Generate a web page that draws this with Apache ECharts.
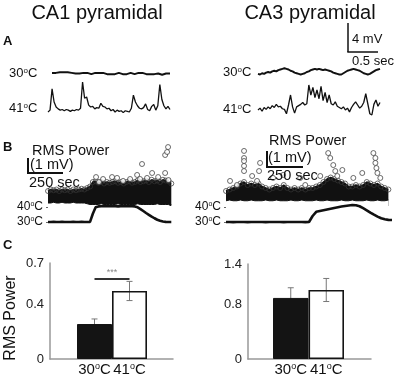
<!DOCTYPE html>
<html>
<head>
<meta charset="utf-8">
<script src="https://cdn.jsdelivr.net/npm/echarts@6/dist/echarts.min.js"></script>
<style>
  html, body { margin: 0; background: #fff; }
  #main { width: 397px; height: 377px; }
</style>
</head>
<body>
<div id="main"></div>
<script>
// ---- panel A: voltage traces (mV, one sample per ~33 ms) ----
const ca1Trace30 = [0.1,0.2,0.1,0.3,0.2,0.3,0.2,0.1,0.2,0.0,0.1,-0.1,0.0,0.1,0.0,-0.1,0.1,0.2,0.1,0.0,-0.1,0.0,0.1,0.0,0.1,0.2,0.1,0.0,-0.1,-0.2,-0.1,0.0,-0.1,0.0,0.1,0.0,-0.1,-0.2,-0.1,0.0,0.1,0.0,-0.1,0.0,0.1,0.2,0.1,0.0,-0.1,-0.2,-0.1,0.0,-0.1,0.0,0.0,-0.1,-0.2,-0.1,0.0,0.1,0.0];
const ca1Trace41 = [0.0,0.3,3.7,1.6,0.8,0.5,0.3,0.4,0.2,0.4,0.3,0.1,0.3,0.2,0.4,0.3,0.6,4.8,2.2,2.4,1.1,0.8,0.9,0.5,0.7,0.6,1.4,0.9,0.8,0.5,0.6,0.2,0.4,0.0,0.3,0.1,0.2,-0.1,0.2,0.1,0.0,0.6,2.7,1.6,1.0,0.6,0.5,0.7,1.3,0.4,0.2,0.9,1.2,0.3,1.0,4.4,2.0,1.0,0.5,0.9,0.4];
const ca3Trace30 = [-0.3,-0.4,-0.2,-0.3,-0.1,0.0,-0.1,0.1,0.2,0.1,0.3,0.4,0.5,0.6,0.5,0.4,0.2,0.1,-0.1,-0.2,-0.3,-0.4,-0.3,-0.2,0.0,0.1,0.3,0.4,0.5,0.4,0.5,0.4,0.3,0.4,0.3,0.2,0.1,-0.1,-0.2,-0.3,-0.4,-0.4,-0.2,0.0,0.2,0.3,0.4,0.5,0.4,0.3,0.2,0.0,-0.2,-0.3,-0.4,-0.3,-0.1,0.1,0.3,0.4,0.5];
const ca3Trace41 = [0.0,0.3,-0.2,0.4,0.1,0.5,0.2,0.7,0.4,0.9,0.5,0.6,0.2,0.1,-0.6,0.8,2.4,0.5,-0.5,0.5,0.7,0.9,1.2,0.8,1.0,4.0,2.4,3.6,2.0,3.2,1.8,3.8,1.5,2.8,1.2,2.4,1.0,0.8,1.3,0.6,0.4,0.2,0.5,0.0,0.3,-0.3,0.4,0.9,1.3,0.8,0.3,0.6,1.2,2.6,1.0,-0.6,-0.8,0.9,1.6,0.6,1.2];

// ---- panel B: RMS power cloud (mV) and bath temperature (deg C) ----
const ca1Step = 20;   // s per sample
const ca1CloudTop = [1.0,1.1,1.05,1.1,1.0,1.1,1.05,1.1,1.0,1.1,1.05,1.1,1.15,1.1,1.2,1.3,1.6,1.65,1.55,1.6,1.5,1.6,1.55,1.6,1.65,1.55,1.6,1.5,1.6,1.65,1.55,1.6,1.7,1.6,1.65,1.7,1.6,1.75,1.65,1.7,1.6,1.75,1.7,1.65,1.5];
const ca1CloudBottom = [0.2,0.2,0.25,0.2,0.2,0.25,0.2,0.2,0.2,0.25,0.2,0.2,0.2,0.2,0.15,0.1,0.1,0.1,0.1,0.15,0.1,0.1,0.1,0.1,0.1,0.15,0.1,0.1,0.1,0.1,0.1,0.1,0.15,0.1,0.1,0.1,0.1,0.1,0.1,0.15,0.1,0.1,0.1,0.1,0.1];
const ca1Outliers = [[343,1.93],[364,1.6],[393,1.8],[457,1.93],[493,1.87],[536,1.67],[586,1.8],[636,2.07],[657,1.8],[671,2.8],[707,1.87],[743,2.2],[786,1.93],[836,3.4],[850,3.6],[857,3.93],[836,2.2],[860,1.73]];
const ca1Temp = [30.0,30.0,30.1,30.0,30.0,30.1,30.0,30.0,30.0,30.1,30.0,30.0,30.1,30.0,30.0,30.1,35.5,39.8,40.4,40.5,40.6,40.5,40.5,40.6,40.5,40.4,40.6,40.5,40.5,40.6,40.5,40.4,39.8,38.6,37.3,36.0,34.8,33.6,32.5,31.5,30.8,30.3,30.1,30.0,30.0];

const ca3Step = 25;
const ca3CloudTop = [1.0,1.1,1.2,1.3,1.5,1.6,1.4,1.5,1.4,1.5,1.3,1.2,1.1,1.2,1.3,1.2,1.4,1.2,1.1,1.2,1.1,1.2,1.1,1.2,1.2,1.3,1.4,1.6,1.8,1.9,1.8,1.7,1.6,1.5,1.3,1.3,1.4,1.3,1.4,1.6,1.5,1.4,1.5,1.3,1.2,1.1];
const ca3CloudBottom = [0.35,0.4,0.35,0.35,0.4,0.35,0.35,0.4,0.35,0.35,0.35,0.4,0.35,0.35,0.4,0.35,0.35,0.35,0.4,0.35,0.35,0.4,0.35,0.35,0.35,0.4,0.35,0.35,0.4,0.35,0.35,0.35,0.4,0.35,0.35,0.4,0.35,0.35,0.35,0.4,0.35,0.35,0.4,0.35,0.35,0.4];
const ca3Outliers = [[125,3.67],[125,3.2],[125,3.0],[125,2.67],[125,2.33],[236,2.87],[229,2.33],[28,1.67],[181,2.0],[76,1.4],[215,1.67],[326,1.87],[396,2.07],[514,1.87],[549,1.4],[653,2.0],[708,3.53],[722,3.2],[743,2.73],[757,2.33],[771,2.0],[806,2.4],[882,1.87],[944,2.2],[1021,3.53],[1035,3.2],[1035,2.87],[1042,2.53],[1049,2.2],[1069,1.87]];
const ca3Temp = [30.0,30.0,29.9,30.0,30.0,30.0,29.9,30.0,30.0,30.0,30.0,29.9,30.0,30.0,30.0,30.0,29.9,30.0,30.0,30.0,30.0,30.0,29.9,30.0,34.0,36.8,37.3,37.8,38.3,38.8,39.3,39.8,40.3,40.7,41.0,41.3,41.2,40.5,39.2,37.8,36.3,34.9,33.6,32.5,31.8,31.4,31.3];

// ---- panel C: mean RMS power +- error ----
const tempCats = ['30', '41'];
const ca1Mean = [0.255, 0.496];
const ca1Err = [0.037, 0.07];
const ca1Sig = 0.585;
const ca3Mean = [0.90, 1.017];
const ca3Err = [0.15, 0.17];

const FONT = 'Liberation Sans, Arial, sans-serif';
const degRich = function (size) {
  return {
    n: { fontSize: size, color: '#111', fontFamily: FONT },
    s: { fontSize: Math.round(size * 0.6), color: '#111', fontFamily: FONT, verticalAlign: 'top' }
  };
};
const degText = function (t) { return '{n|' + t + '}{s|o}{n|C}'; };

const grids = [];
const xAxes = [];
const yAxes = [];
const series = [];

function addGrid(g, x, y) {
  const idx = grids.length;
  grids.push(g);
  xAxes.push(Object.assign({ gridIndex: idx, show: false }, x));
  yAxes.push(Object.assign({ gridIndex: idx, show: false, splitLine: { show: false } }, y));
  return idx;
}

// traces
function addTrace(arr, left, width, base, lw) {
  const g = addGrid({ left: left, width: width, top: base - 30, height: 40 },
    { type: 'value', min: 0, max: arr.length - 1 },
    { type: 'value', min: -1.6, max: 4.8 });
  series.push({
    type: 'line', xAxisIndex: g, yAxisIndex: g, symbol: 'none', silent: true,
    data: arr.map(function (v, i) { return [i, v]; }),
    lineStyle: { color: '#111', width: lw }
  });
}
addTrace(ca1Trace30, 52, 118, 73.5, 2);
addTrace(ca1Trace41, 48, 122, 112, 1.3);
addTrace(ca3Trace30, 258, 122, 72, 2);
addTrace(ca3Trace41, 258, 122, 110, 1.3);

// RMS clouds + temperature
function addPowerPanel(top, bottom, outliers, temp, step, left, width, tMax) {
  const g = addGrid({ left: left, width: width, top: 146, height: 60 },
    { type: 'value', min: 0, max: tMax },
    { type: 'value', min: 0, max: 4 });
  const toXY = function (arr) { return arr.map(function (v, i) { return [i * step, v]; }); };
  series.push({
    type: 'line', xAxisIndex: g, yAxisIndex: g, symbol: 'none', silent: true,
    data: toXY(top), lineStyle: { color: '#111', width: 1.5 },
    areaStyle: { color: '#111', opacity: 1 }, z: 2
  });
  series.push({
    type: 'line', xAxisIndex: g, yAxisIndex: g, symbol: 'none', silent: true,
    data: toXY(bottom), lineStyle: { color: '#111', width: 1 },
    areaStyle: { color: '#fff', opacity: 1 }, z: 3
  });
  series.push({
    type: 'scatter', xAxisIndex: g, yAxisIndex: g, silent: true,
    data: toXY(top), symbolSize: 5,
    itemStyle: { color: 'rgba(0,0,0,0)', borderColor: '#333', borderWidth: 0.9 }, z: 4
  });
  series.push({
    type: 'scatter', xAxisIndex: g, yAxisIndex: g, silent: true,
    data: outliers, symbolSize: 5,
    itemStyle: { color: '#fff', borderColor: '#333', borderWidth: 0.9 }, z: 5
  });
  const gt = addGrid({ left: left, width: width, top: 207, height: 15 },
    { type: 'value', min: 0, max: tMax },
    {
      type: 'value', min: 30, max: 40, interval: 10, show: true,
      axisLine: { show: false },
      axisTick: { show: true, length: 2, lineStyle: { color: '#666' } },
      axisLabel: { margin: 5, formatter: function (v) { return degText(v); }, rich: degRich(12) }
    });
  series.push({
    type: 'line', xAxisIndex: gt, yAxisIndex: gt, symbol: 'none', silent: true, clip: false,
    data: toXY(temp), lineStyle: { color: '#111', width: 2.6 }
  });
}
addPowerPanel(ca1CloudTop, ca1CloudBottom, ca1Outliers, ca1Temp, ca1Step, 48, 124, 885);
addPowerPanel(ca3CloudTop, ca3CloudBottom, ca3Outliers, ca3Temp, ca3Step, 226, 166, 1150);

// bar charts
function errorItem(params, api) {
  const x = api.value(0);
  const lo = api.coord([x, api.value(1)]);
  const hi = api.coord([x, api.value(2)]);
  const st = { stroke: '#777', lineWidth: 1 };
  return {
    type: 'group', children: [
      { type: 'line', shape: { x1: hi[0], y1: hi[1], x2: lo[0], y2: lo[1] }, style: st },
      { type: 'line', shape: { x1: hi[0] - 3, y1: hi[1], x2: hi[0] + 3, y2: hi[1] }, style: st },
      { type: 'line', shape: { x1: lo[0] - 3, y1: lo[1], x2: lo[0] + 3, y2: lo[1] }, style: st }
    ]
  };
}

function addBars(mean, err, yMax, yInt, axisLeft, top, height, barLeft, barWidth, sig) {
  const axLine = { show: true, lineStyle: { color: '#999', width: 1.5 } };
  addGrid({ left: axisLeft, width: 123, top: top, height: height },
    { type: 'value', min: 0, max: 1, show: true, axisLine: axLine, axisTick: { show: false }, axisLabel: { show: false }, splitLine: { show: false } },
    {
      type: 'value', min: 0, max: yMax, interval: yInt, show: true, axisLine: axLine,
      axisTick: { show: false },
      axisLabel: { color: '#222', fontSize: 13, fontFamily: FONT, margin: 6 }
    });
  const g = addGrid({ left: barLeft, width: barWidth, top: top, height: height },
    {
      type: 'category', data: tempCats, show: true,
      axisLine: { show: false }, axisTick: { show: false },
      axisLabel: { margin: 3, interval: 0, formatter: function (v) { return degText(v); }, rich: degRich(15) }
    },
    { type: 'value', min: 0, max: yMax });
  const bar = {
    type: 'bar', xAxisIndex: g, yAxisIndex: g, silent: true, barCategoryGap: '0%', z: 3,
    data: mean.map(function (m, i) {
      return {
        value: m,
        itemStyle: i === 0
          ? { color: '#141414', borderColor: '#141414', borderWidth: 1 }
          : { color: 'rgba(255,255,255,0)', borderColor: '#141414', borderWidth: 1.6 }
      };
    })
  };
  if (sig != null) {
    bar.markLine = {
      silent: true, symbol: ['none', 'none'],
      lineStyle: { color: '#333', width: 2, type: 'solid' },
      label: { show: true, position: 'insideMiddleTop', formatter: '***', color: '#888', fontSize: 9, distance: 2 },
      data: [[{ coord: [0, sig] }, { coord: [1, sig] }]]
    };
  }
  series.push(bar);
  series.push({
    type: 'custom', xAxisIndex: g, yAxisIndex: g, silent: true, z: 2,
    renderItem: errorItem,
    encode: { x: 0, y: [1, 2] },
    data: mean.map(function (m, i) { return [i, m - err[i], m + err[i]]; })
  });
}
addBars(ca1Mean, ca1Err, 0.7, 0.4, 50, 263, 96, 77, 70, ca1Sig);
addBars(ca3Mean, ca3Err, 1.4, 0.8, 248, 264, 95, 273, 71, null);

// annotations
function txt(x, y, text, size, extra) {
  return Object.assign({
    type: 'text', x: x, y: y, z: 100, silent: true,
    style: Object.assign({ text: text, fontSize: size, fontFamily: FONT, fill: '#111', align: 'left', verticalAlign: 'middle' }, extra || {})
  });
}
function degLabel(x, y, t) {
  return txt(x, y, degText(t), 13, { rich: degRich(13) });
}
function seg(x1, y1, x2, y2, w) {
  return { type: 'line', z: 100, silent: true, shape: { x1: x1, y1: y1, x2: x2, y2: y2 }, style: { stroke: '#111', lineWidth: w } };
}

const graphic = [
  txt(97, 13, 'CA1 pyramidal', 20, { align: 'center' }),
  txt(310, 13, 'CA3 pyramidal', 20, { align: 'center' }),
  txt(3, 41, 'A', 13, { fontWeight: 'bold' }),
  txt(3, 147, 'B', 13, { fontWeight: 'bold' }),
  txt(3, 245, 'C', 13, { fontWeight: 'bold' }),
  degLabel(9, 73, '30'),
  degLabel(9, 108, '41'),
  degLabel(223, 72, '30'),
  degLabel(223, 109, '41'),
  seg(348, 23, 348, 52, 1.5),
  seg(347.3, 52, 378, 52, 1.5),
  txt(352, 39, '4 mV', 13),
  txt(352, 61, '0.5 sec', 13),
  txt(32, 151, 'RMS Power', 14.5),
  txt(30, 165, '(1 mV)', 14.5),
  txt(29, 183, '250 sec', 14.5),
  seg(28, 158, 28, 173, 2),
  seg(27, 173, 63, 173, 2),
  txt(269, 141, 'RMS Power', 14.5),
  txt(268, 158, '(1 mV)', 14.5),
  txt(267, 176, '250 sec', 14.5),
  seg(267, 151, 267, 167, 2),
  seg(266, 167, 303, 167, 2),
  Object.assign(txt(11, 318, 'RMS Power', 16, { align: 'center' }), { rotation: Math.PI / 2 })
];

const chart = echarts.init(document.getElementById('main'));
chart.setOption({
  backgroundColor: '#fff',
  animation: false,
  textStyle: { fontFamily: FONT },
  grid: grids,
  xAxis: xAxes,
  yAxis: yAxes,
  series: series,
  graphic: graphic
});
</script>
</body>
</html>
